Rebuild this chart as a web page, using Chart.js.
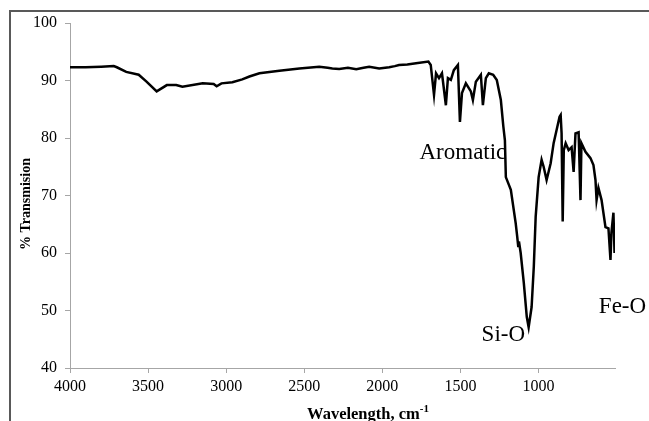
<!DOCTYPE html>
<html>
<head>
<meta charset="utf-8">
<script src="https://cdn.jsdelivr.net/npm/chart.js@4.4.0/dist/chart.umd.min.js"></script>
<style>
    body { margin: 0; background: #ffffff; }
    #wrap { position: relative; width: 649px; height: 421px; }
</style>
</head>
<body>
<div id="wrap"><canvas id="ftir-chart" width="649" height="421"></canvas></div>
<script>
// FTIR spectrum
const wavenumbers = [
    4000, 3900, 3800, 3720, 3700, 3640, 3560, 3510, 3445, 3380, 3320, 3280, 3150, 3080, 3061, 3030,
    2960, 2897, 2851, 2787, 2659, 2531, 2404, 2350, 2320, 2276, 2220, 2167, 2120, 2084, 2020, 1956,
    1920, 1893, 1840, 1784, 1705, 1690,
    1669, 1656, 1637, 1618, 1593, 1580, 1561, 1542, 1516, 1503, 1490, 1465, 1433, 1420, 1401, 1369,
    1356, 1337, 1318, 1290, 1267, 1241, 1225, 1215, 1209, 1177, 1146, 1136, 1130, 1125, 1114, 1094,
    1075, 1063, 1044, 1030, 1018, 999, 980, 967, 948, 922, 903, 884, 865, 858, 852, 845,
    838, 826, 807, 788, 775, 763, 743, 731, 725, 699, 667, 648, 635, 628, 616, 596,
    571, 552, 539, 533, 520, 513
];
const transmission = [
    92.3, 92.3, 92.4, 92.5, 92.3, 91.5, 91.0, 89.8, 88.1, 89.2, 89.2, 88.9, 89.5, 89.4, 89.0, 89.5,
    89.7, 90.2, 90.7, 91.25, 91.7, 92.1, 92.4, 92.2, 92.1, 92.0, 92.2, 91.95, 92.2, 92.4, 92.1, 92.3,
    92.5, 92.7, 92.8, 93.0, 93.3, 92.7,
    87.5, 91.25, 90.4, 91.25, 85.7, 90.4, 90.1, 91.8, 92.7, 82.8, 87.8, 89.5, 88.1, 86.6, 89.8, 91.0,
    85.7, 90.4, 91.25, 91.0, 90.1, 86.6, 82.0, 79.6, 73.2, 71.0, 65.2, 62.8, 61.2, 62.0, 60.0, 54.8,
    48.9, 47.1, 50.6, 57.6, 66.3, 73.2, 76.2, 75.0, 72.7, 75.6, 79.1, 81.4, 83.7, 84.0, 80.8, 65.5,
    77.9, 79.1, 77.9, 78.4, 74.1, 80.8, 81.0, 69.2, 79.1, 77.6, 76.5, 75.3, 72.7, 69.2, 71.3, 69.2,
    64.5, 64.3, 58.8, 63.5, 67.0, 60.0
];
const x_ticks = [4000, 3500, 3000, 2500, 2000, 1500, 1000];

const band_labels = ["Aromatic", "Si-O", "Fe-O"];
const band_x = [1484, 1225, 462];
const band_y = [77.4, 45.7, 50.6];

const SERIF = "'Liberation Serif', 'Times New Roman', serif";

const decorPlugin = {
    id: "decor",
    beforeDraw: (chart) => {
        const ctx = chart.ctx;
        ctx.save();
        ctx.fillStyle = "#ffffff";
        ctx.fillRect(0, 0, chart.width, chart.height);
        ctx.strokeStyle = "#595959";
        ctx.lineWidth = 2;
        ctx.strokeRect(10, 11, 700, 500);
        ctx.restore();
    },
    afterDraw: (chart) => {
        const ctx = chart.ctx;
        const xs = chart.scales.x, ys = chart.scales.y;
        ctx.save();
        ctx.fillStyle = "#000000";
        ctx.textAlign = "center";
        ctx.textBaseline = "middle";
        ctx.font = "23px " + SERIF;
        band_labels.forEach((t, i) => {
            ctx.fillText(t, xs.getPixelForValue(band_x[i]), ys.getPixelForValue(band_y[i]));
        });

        // axis titles
        ctx.font = "bold 14px " + SERIF;
        ctx.save();
        ctx.translate(26, 204);
        ctx.rotate(-Math.PI / 2);
        ctx.fillText("% Transmision", 0, 0);
        ctx.restore();

        ctx.textAlign = "left";
        ctx.textBaseline = "alphabetic";
        let main = "Wavelength, cm";
        ctx.font = "bold 16.5px " + SERIF;
        let w = ctx.measureText(main).width;
        ctx.font = "bold 11px " + SERIF;
        let sw = ctx.measureText("-1").width;
        let x0 = 368 - (w + sw) / 2;
        ctx.font = "bold 16.5px " + SERIF;
        ctx.fillText(main, x0, 419);
        ctx.font = "bold 11px " + SERIF;
        ctx.fillText("-1", x0 + w, 412);
        ctx.restore();
    }
};

window.addEventListener("load", () => {
    renderChart();
});

function renderChart() {
    const chart_ctx = document.getElementById("ftir-chart");

    new Chart(chart_ctx, {
        type: "line",
        data: {
            datasets: [{
                label: "% Transmision",
                data: wavenumbers.map((w, i) => { return { x: w, y: transmission[i] } }),
                borderColor: "#000000",
                borderWidth: 2.5,
                pointRadius: 0,
                tension: 0,
                fill: false
            }]
        },
        options: {
            responsive: false,
            animation: false,
            layout: { padding: { left: 0, top: 23, right: 34, bottom: 0 } },
            plugins: { legend: { display: false }, tooltip: { enabled: false } },
            scales: {
                x: {
                    type: "linear",
                    reverse: true,
                    min: 510,
                    max: 4000,
                    afterBuildTicks: (axis) => { axis.ticks = x_ticks.map((v) => { return { value: v } }) },
                    afterFit: (scale) => { scale.height = 53 },
                    ticks: {
                        color: "#000000",
                        font: { family: SERIF, size: 16 },
                        padding: 4,
                        maxRotation: 0,
                        autoSkip: false,
                        callback: (v) => { return String(v) }
                    },
                    grid: { drawOnChartArea: false, tickLength: 5, color: "#a6a6a6" },
                    border: { color: "#a6a6a6", width: 1 }
                },
                y: {
                    min: 40,
                    max: 100,
                    afterFit: (scale) => { scale.width = 70 },
                    ticks: {
                        stepSize: 10,
                        color: "#000000",
                        font: { family: SERIF, size: 16 },
                        padding: 8,
                        callback: (v) => { return String(v) }
                    },
                    grid: { drawOnChartArea: false, tickLength: 5, color: "#a6a6a6" },
                    border: { color: "#a6a6a6", width: 1 }
                }
            }
        },
        plugins: [decorPlugin]
    });
}
</script>
</body>
</html>
